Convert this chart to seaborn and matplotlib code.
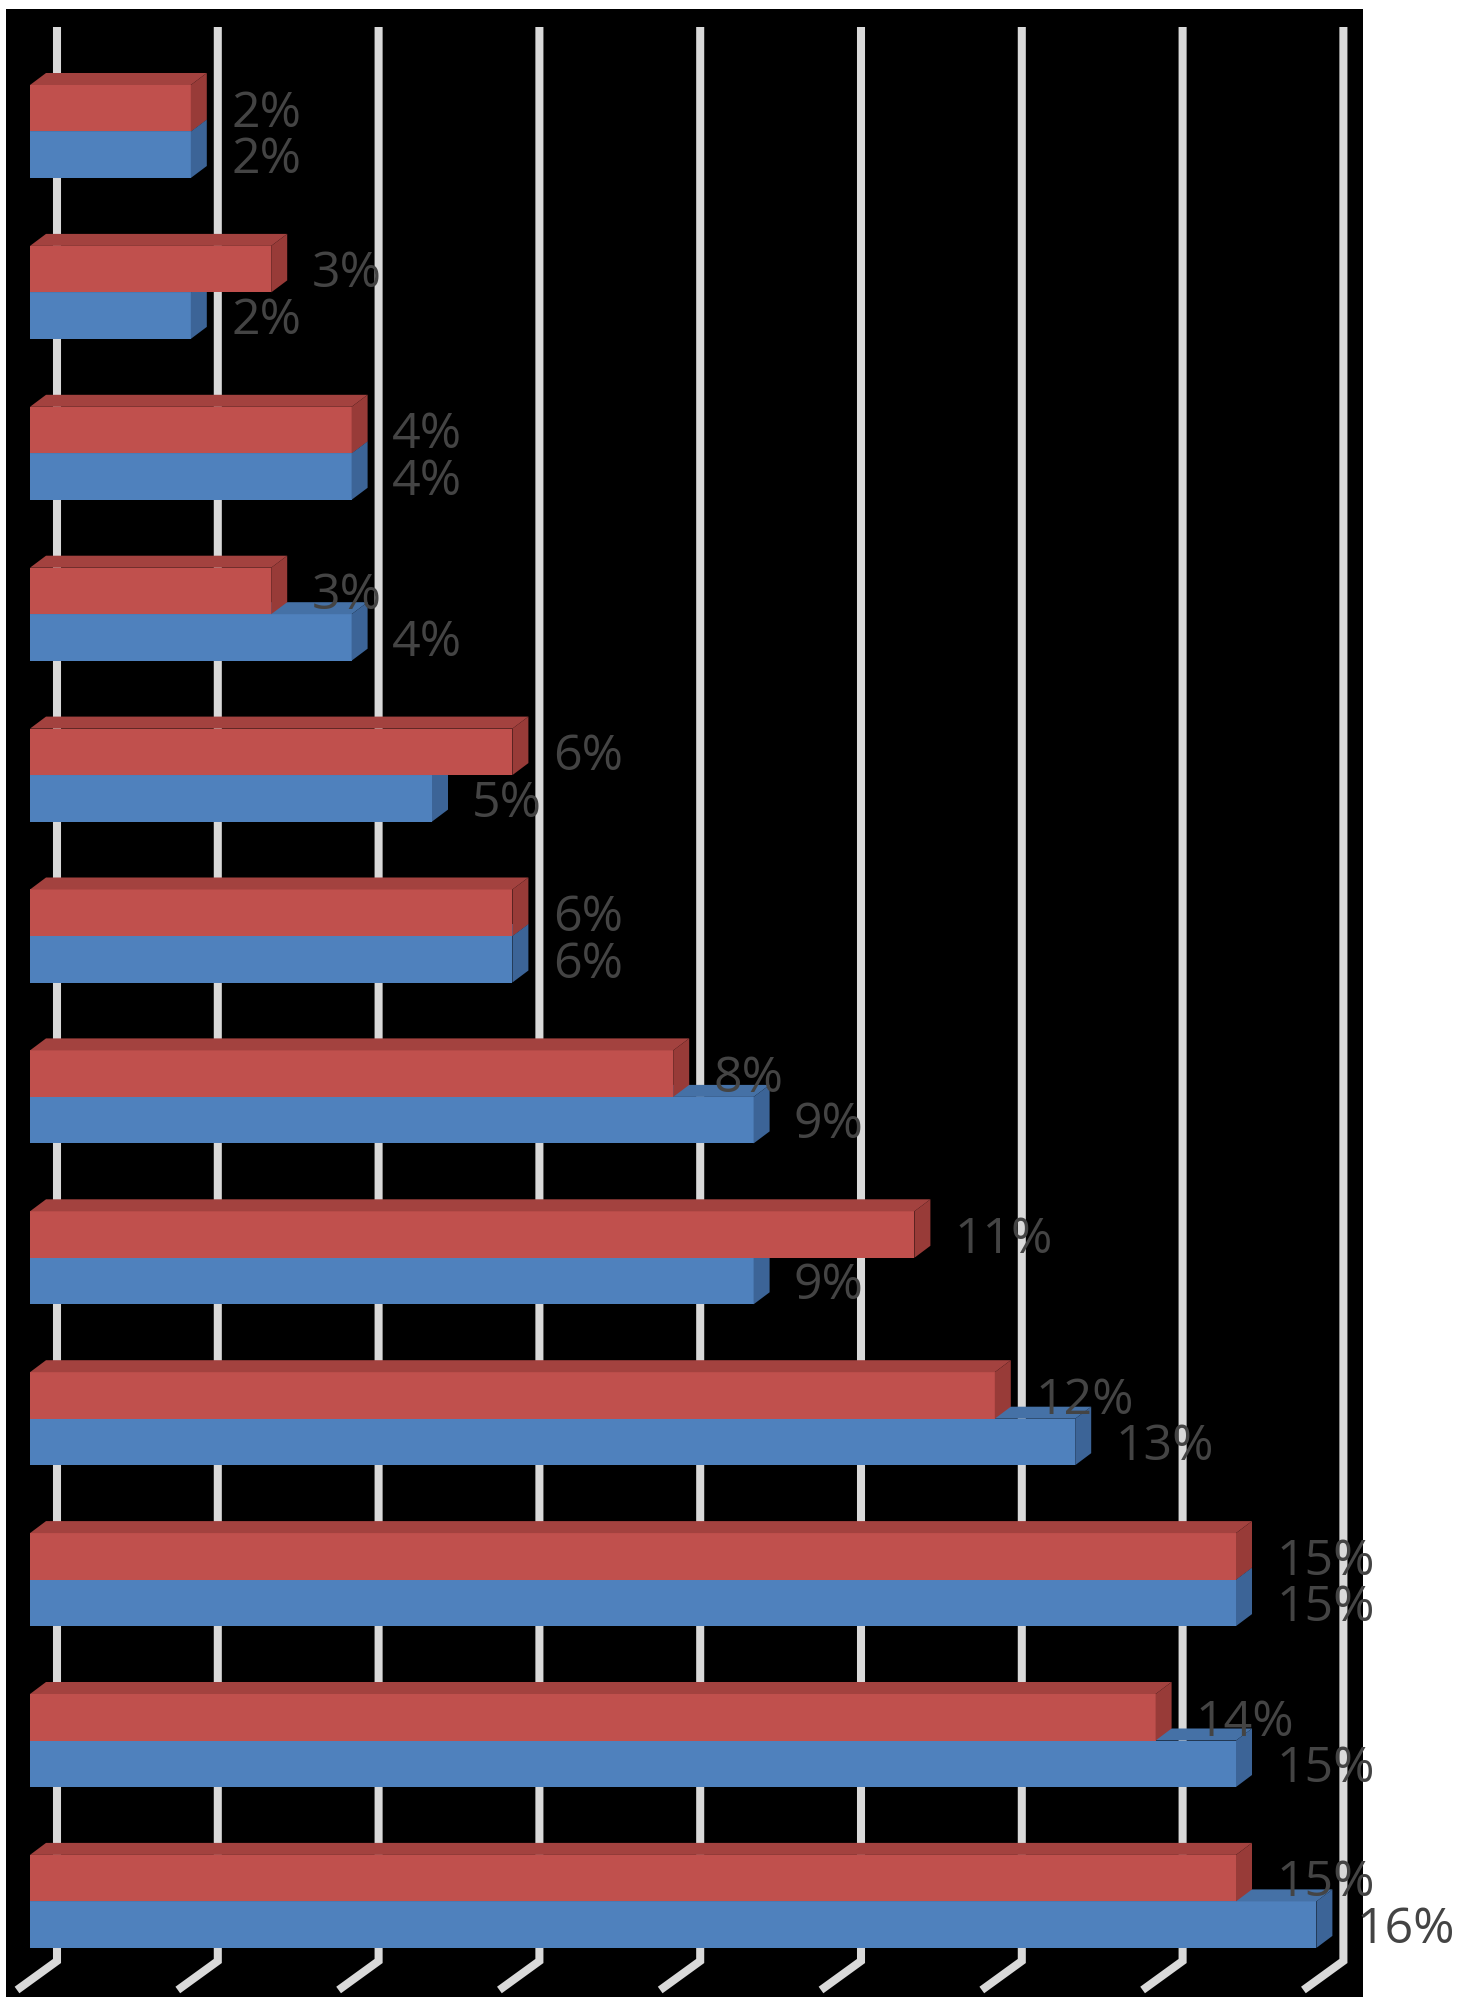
import numpy as np
import pandas as pd
import matplotlib
matplotlib.use("Agg")
import matplotlib.pyplot as plt
from matplotlib.patches import Polygon
import seaborn as sns

# ---- data (groups listed top to bottom) ----
categories = ["Item 12", "Item 11", "Item 10", "Item 9", "Item 8", "Item 7",
              "Item 6", "Item 5", "Item 4", "Item 3", "Item 2", "Item 1"]
series_order = ["Series 2", "Series 1"]          # red sits above blue in each group
series2_values = [2, 3, 4, 3, 6, 6, 8, 11, 12, 15, 14, 15]   # red
series1_values = [2, 2, 4, 4, 5, 6, 9, 9, 13, 15, 15, 16]    # blue
grid_ticks = [0, 2, 4, 6, 8, 10, 12, 14, 16]

# ---- styling ----
FRONT = {"Series 2": "#C0504D", "Series 1": "#4F81BD"}
TOP = {"Series 2": "#A3423F", "Series 1": "#4571A6"}
SIDE = {"Series 2": "#983B38", "Series 1": "#3C6497"}
LABEL_COLOR = "#444444"
GRID_COLOR = "#D9D9D9"

W_PX, H_PX, DPI = 1479, 1997, 100
PLOT_L, PLOT_R, PLOT_T, PLOT_B = 6, 1363, 9, 1997      # black plot area, px
ZERO_PX, PX_PER_UNIT = 30, 80.4                          # front-face x scale
ROW0_PX, ROW_STEP_PX = 131.5, 160.9                      # group centres
DEPTH_X, DEPTH_Y = 16, 12                                # bar depth, px
WALL_X = 27                                              # back wall shift, px
GRID_TOP, GRID_FLOOR, FLOOR_FRONT, FLOOR_DX = 27, 1961, 1990, -40

sns.set_theme(style="white")
plt.rcParams["font.family"] = ["Open Sans", "DejaVu Sans"]

df = pd.DataFrame({
    "category": categories * 2,
    "series": ["Series 2"] * len(categories) + ["Series 1"] * len(categories),
    "value": series2_values + series1_values,
})

fig = plt.figure(figsize=(W_PX / DPI, H_PX / DPI), dpi=DPI, facecolor="white")
ax = fig.add_axes([PLOT_L / W_PX, (H_PX - PLOT_B) / H_PX,
                   (PLOT_R - PLOT_L) / W_PX, (PLOT_B - PLOT_T) / H_PX])
ax.set_facecolor("black")

sns.barplot(data=df, x="value", y="category", hue="series",
            hue_order=series_order, palette=[FRONT[s] for s in series_order],
            orient="h", saturation=1, width=0.578, gap=0, errorbar=None,
            linewidth=0, legend=False, ax=ax)

ax.set_xlim((PLOT_L - ZERO_PX) / PX_PER_UNIT, (PLOT_R - ZERO_PX) / PX_PER_UNIT)
ax.set_ylim((PLOT_B - ROW0_PX) / ROW_STEP_PX, (PLOT_T - ROW0_PX) / ROW_STEP_PX)
ax.set_xticks([])
ax.set_yticks([])
ax.set_xlabel("")
ax.set_ylabel("")
for sp in ax.spines.values():
    sp.set_visible(False)
ax.grid(False)

inv = ax.transData.inverted()


def shifted(x, y, dxp, dyp):
    """Move a data point by a screen offset given in pixels (y up)."""
    d = ax.transData.transform((x, y))
    return inv.transform((d[0] + dxp, d[1] + dyp))


def from_fig_px(x_data, y_px_top):
    """Data y for a pixel row measured from the top of the figure."""
    d = ax.transData.transform((x_data, 0))
    return inv.transform((d[0], H_PX - y_px_top))[1]


# back-wall gridlines that fold onto the floor
for t in grid_ticks:
    xb = shifted(t, 0, WALL_X, 0)[0]
    y_top = from_fig_px(t, GRID_TOP)
    y_floor = from_fig_px(t, GRID_FLOOR)
    y_front = from_fig_px(t, FLOOR_FRONT)
    x_front = shifted(xb, 0, FLOOR_DX, 0)[0]
    ax.plot([xb, xb, x_front], [y_top, y_floor, y_front], color=GRID_COLOR,
            lw=5.8, solid_capstyle="butt", solid_joinstyle="miter",
            zorder=0.5, clip_on=False)

# give each bar its top and side faces
for cont, name in zip(ax.containers, series_order):
    z = 3 if name == "Series 2" else 2
    for rect in cont:
        rect.set_zorder(z)
        x0, y0 = rect.get_x(), rect.get_y()
        x1, y1 = x0 + rect.get_width(), y0 + rect.get_height()
        top = [(x0, y0), (x1, y0), shifted(x1, y0, DEPTH_X, DEPTH_Y),
               shifted(x0, y0, DEPTH_X, DEPTH_Y)]
        side = [(x1, y0), (x1, y1), shifted(x1, y1, DEPTH_X, DEPTH_Y),
                shifted(x1, y0, DEPTH_X, DEPTH_Y)]
        ax.add_patch(Polygon(top, closed=True, facecolor=TOP[name],
                             edgecolor="none", zorder=z + 0.1))
        ax.add_patch(Polygon(side, closed=True, facecolor=SIDE[name],
                             edgecolor="none", zorder=z + 0.1))

# value labels
LABEL_PAD = 29
for cont in ax.containers:
    texts = ax.bar_label(cont, labels=[f"{v:g}%" for v in cont.datavalues],
                         padding=LABEL_PAD, fontsize=36, color=LABEL_COLOR)
    for t in texts:
        t.xyann = (LABEL_PAD, -4)
        t.set_zorder(5)

fig.savefig("out.png", dpi=DPI, facecolor="white")
